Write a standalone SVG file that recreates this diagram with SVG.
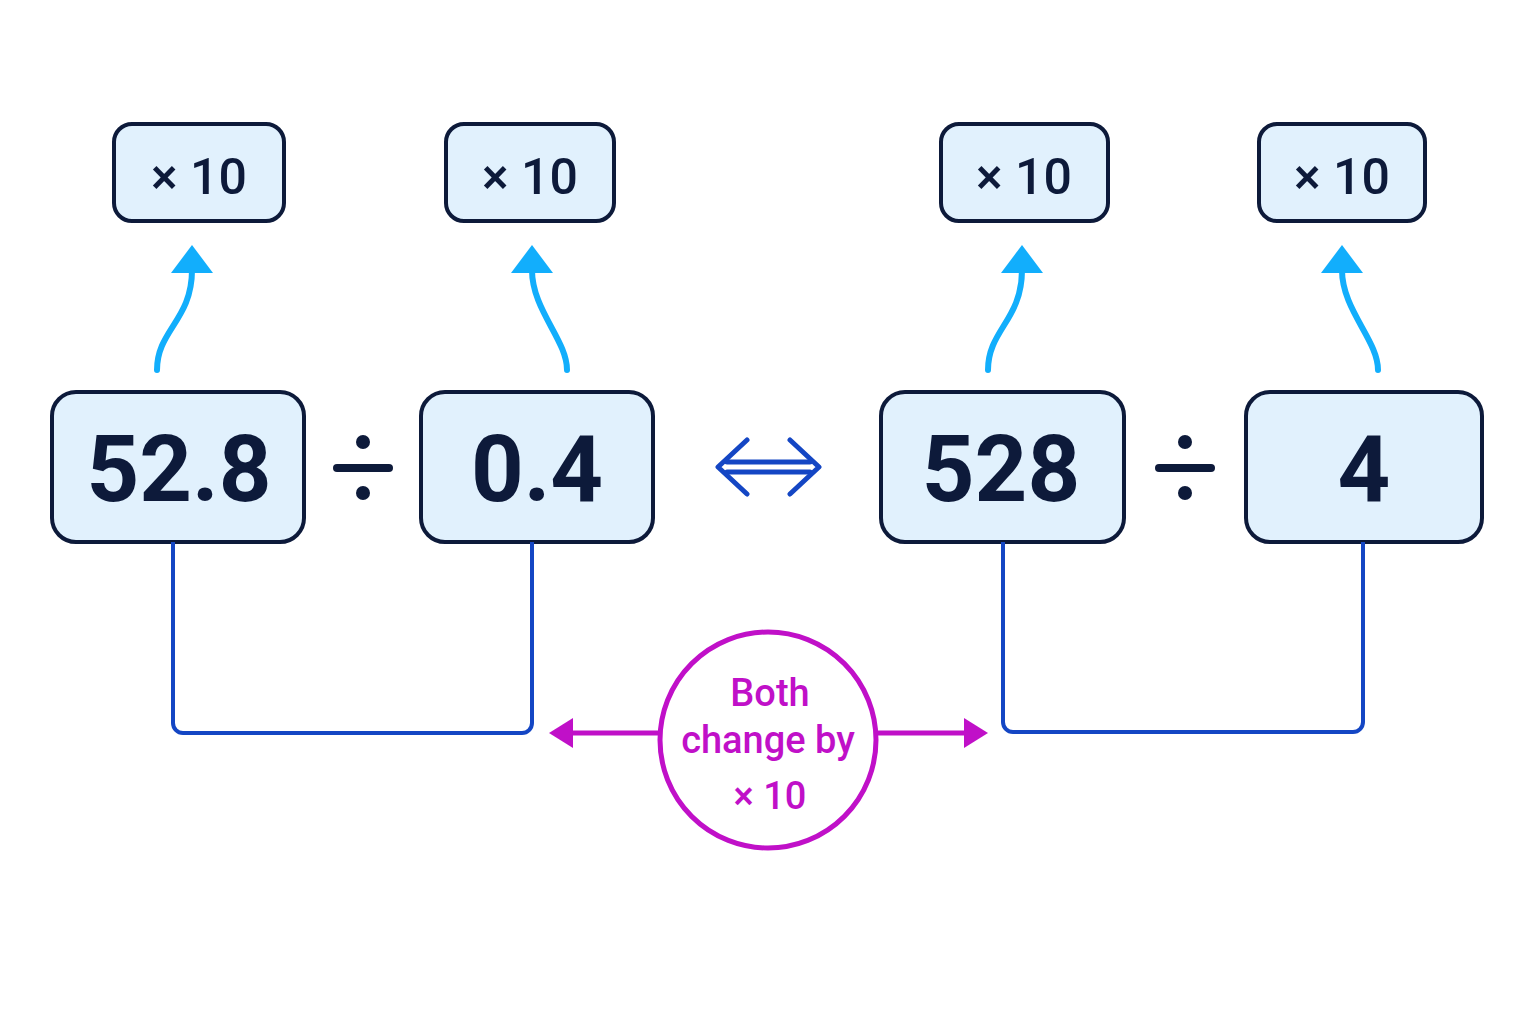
<svg xmlns="http://www.w3.org/2000/svg" width="1536" height="1024" viewBox="0 0 1536 1024">
<style>
.box{fill:#e1f1fd;stroke:#0d1a3a;stroke-width:4}
.big{font:bold 92px "Roboto","Liberation Sans",sans-serif;fill:#0d1a3a;text-anchor:middle}
.sm{font:500 50px "Roboto","Liberation Sans",sans-serif;fill:#0d1a3a;text-anchor:middle}
.cy{fill:none;stroke:#12aefc;stroke-width:6;stroke-linecap:round}
.br{fill:none;stroke:#1446c4;stroke-width:4}
.mg{font:500 38px "Roboto","Liberation Sans",sans-serif;fill:#c010c8;text-anchor:middle}
</style>
<defs>
<marker id="ah" viewBox="0 0 10 10" refX="10" refY="5" markerWidth="7" markerHeight="7" markerUnits="userSpaceOnUse" orient="auto"/>
</defs>
<rect width="1536" height="1024" fill="#fff"/>
<g id="m1"><rect class="box" x="114" y="124" width="170" height="97" rx="18"/><text class="sm" x="199" y="194">× 10</text></g>
<g id="m2"><rect class="box" x="446" y="124" width="168" height="97" rx="18"/><text class="sm" x="530" y="194">× 10</text></g>
<g id="m3"><rect class="box" x="941" y="124" width="167" height="97" rx="18"/><text class="sm" x="1024" y="194">× 10</text></g>
<g id="m4"><rect class="box" x="1259" y="124" width="166" height="97" rx="18"/><text class="sm" x="1342" y="194">× 10</text></g>
<g id="n1"><rect class="box" x="52" y="392" width="252" height="150" rx="24"/><text class="big" x="179" y="501">52.8</text></g>
<g id="n2"><rect class="box" x="421" y="392" width="232" height="150" rx="24"/><text class="big" x="537" y="501">0.4</text></g>
<g id="n3"><rect class="box" x="881" y="392" width="243" height="150" rx="24"/><text class="big" x="1001" y="501">528</text></g>
<g id="n4"><rect class="box" x="1246" y="392" width="236" height="150" rx="24"/><text class="big" x="1364" y="501">4</text></g>
<g id="ops" fill="#0d1a3a">
<rect x="333" y="464" width="60" height="8" rx="4"/><circle cx="363" cy="442" r="7"/><circle cx="363" cy="493" r="7"/>
<rect x="1155" y="464" width="60" height="8" rx="4"/><circle cx="1185" cy="442" r="7"/><circle cx="1185" cy="493" r="7"/>
</g>
<g id="connectors">
<path class="cy" d="M157 370 C157 330 192 320 192 270"/><polygon fill="#12aefc" points="192,245 213,273 171,273"/>
<path class="cy" d="M567 370 C567 340 532 310 532 270"/><polygon fill="#12aefc" points="532,245 553,273 511,273"/>
<path class="cy" d="M988 370 C988 330 1022 320 1022 270"/><polygon fill="#12aefc" points="1022,245 1043,273 1001,273"/>
<path class="cy" d="M1378 370 C1378 340 1342 310 1342 270"/><polygon fill="#12aefc" points="1342,245 1363,273 1321,273"/>
<path class="br" d="M173 542 V723 a10 10 0 0 0 10 10 H522 a10 10 0 0 0 10 -10 V542"/>
<path class="br" d="M1003 542 V722 a10 10 0 0 0 10 10 H1353 a10 10 0 0 0 10 -10 V542"/>
<g fill="none" stroke="#1446c4" stroke-width="5" stroke-linecap="round" stroke-linejoin="round">
<path d="M727 462 H810 M727 472 H810"/>
<path d="M747 440 L718 467 L747 494 M790 440 L819 467 L790 494"/>
</g>
<path d="M660 733 H570 M876 733 H968" stroke="#c010c8" stroke-width="5"/>
<polygon fill="#c010c8" points="549,733 573,718 573,748"/>
<polygon fill="#c010c8" points="988,733 964,718 964,748"/>
</g>
<g id="note">
<circle cx="768" cy="740" r="108" fill="#fff" stroke="#c010c8" stroke-width="5"/>
<text class="mg" x="770" y="706">Both</text>
<text class="mg" x="768" y="753">change by</text>
<text class="mg" x="770" y="809">× 10</text>
</g>
</svg>
